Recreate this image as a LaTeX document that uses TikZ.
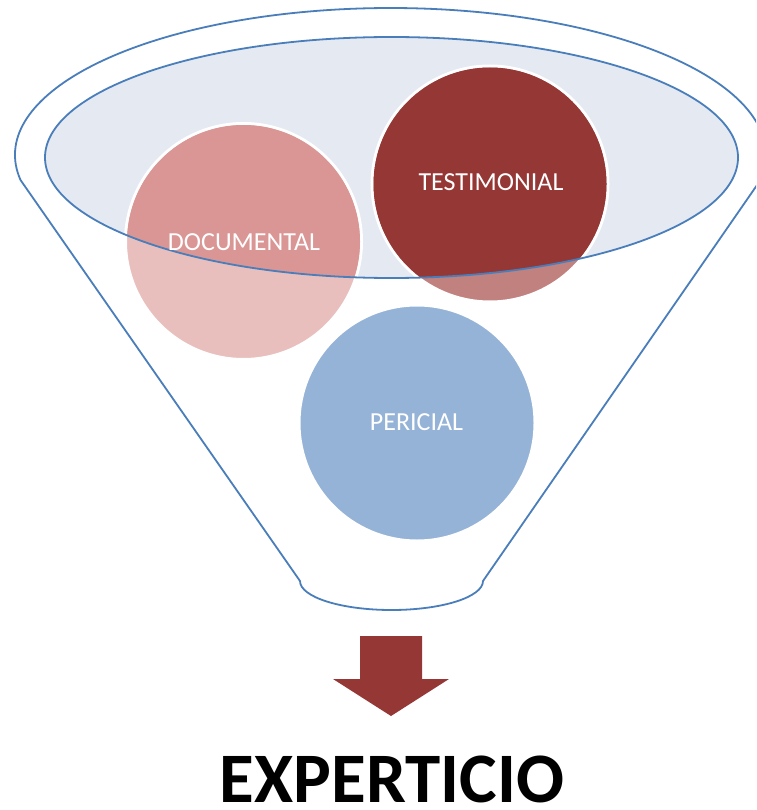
\documentclass[tikz,border=0pt]{standalone}
\usepackage{fontspec}
\setmainfont{Carlito}
\definecolor{funnelblue}{HTML}{4A7EBB}
\definecolor{bowlfill}{HTML}{E4E9F2}
\definecolor{docfull}{HTML}{D99694}
\definecolor{docfade}{HTML}{E8BFBD}
\definecolor{testfull}{HTML}{953735}
\definecolor{testfade}{HTML}{C0817F}
\definecolor{perfill}{HTML}{95B3D7}
\definecolor{arrowred}{HTML}{953735}
\begin{document}
\begin{tikzpicture}[x=1pt,y=-1pt,
  bubble/.style={circle, draw=white, line width=3pt, minimum size=236pt, inner sep=0pt},
  bubbletext/.style={text=white, font=\fontsize{26}{30}\selectfont, anchor=base, inner sep=0pt},
  funnelline/.style={draw=funnelblue, line width=1.8pt}]
\useasboundingbox (0,0) rectangle (756,810);
\clip (0,0) rectangle (756,810);
\fill[white] (0,0) rectangle (756,810);
% outer funnel
\path[funnelline, line join=round] (20.5,180)
  arc[start angle=170.21, end angle=369.79, x radius=375.5, y radius=147]
  -- (483,581)
  arc[start angle=0, end angle=180, x radius=91.5, y radius=29]
  -- cycle;
% inner bowl
\fill[bowlfill] (391.5,157.5) ellipse [x radius=346.5, y radius=120.5];
% circles (faded parts)
\node[bubble, fill=docfade] (doc) at (243.5,241.5) {};
\node[bubble, fill=testfade] (test) at (490,184) {};
\node[bubble, fill=perfill] (per) at (417,423) {};
% full-colour parts inside the bowl
\begin{scope}
  \clip (391.5,157.5) ellipse [x radius=346.5, y radius=120.5];
  \fill[docfull] (doc.center) circle (116.5);
  \fill[testfull] (test.center) circle (116.5);
\end{scope}
% bowl rim on top
\draw[funnelline] (391.5,157.5) ellipse [x radius=346.5, y radius=120.5];
% labels
\node[bubbletext] (doct) at (244,250) {DOCUMENTAL};
\node[bubbletext] (testt) at (491,191) {TESTIMONIAL};
\node[bubbletext] (pert) at (416.5,430.5) {PERICIAL};
% arrow
\fill[arrowred] (360,636) -- (422,636) -- (422,679) -- (449,679) -- (391,716)
  -- (333,679) -- (360,679) -- cycle;
% result
\node[font=\fontsize{71}{80}\selectfont\bfseries, anchor=base, inner sep=0pt] (result) at (392,802) {EXPERTICIO};
\end{tikzpicture}
\end{document}
